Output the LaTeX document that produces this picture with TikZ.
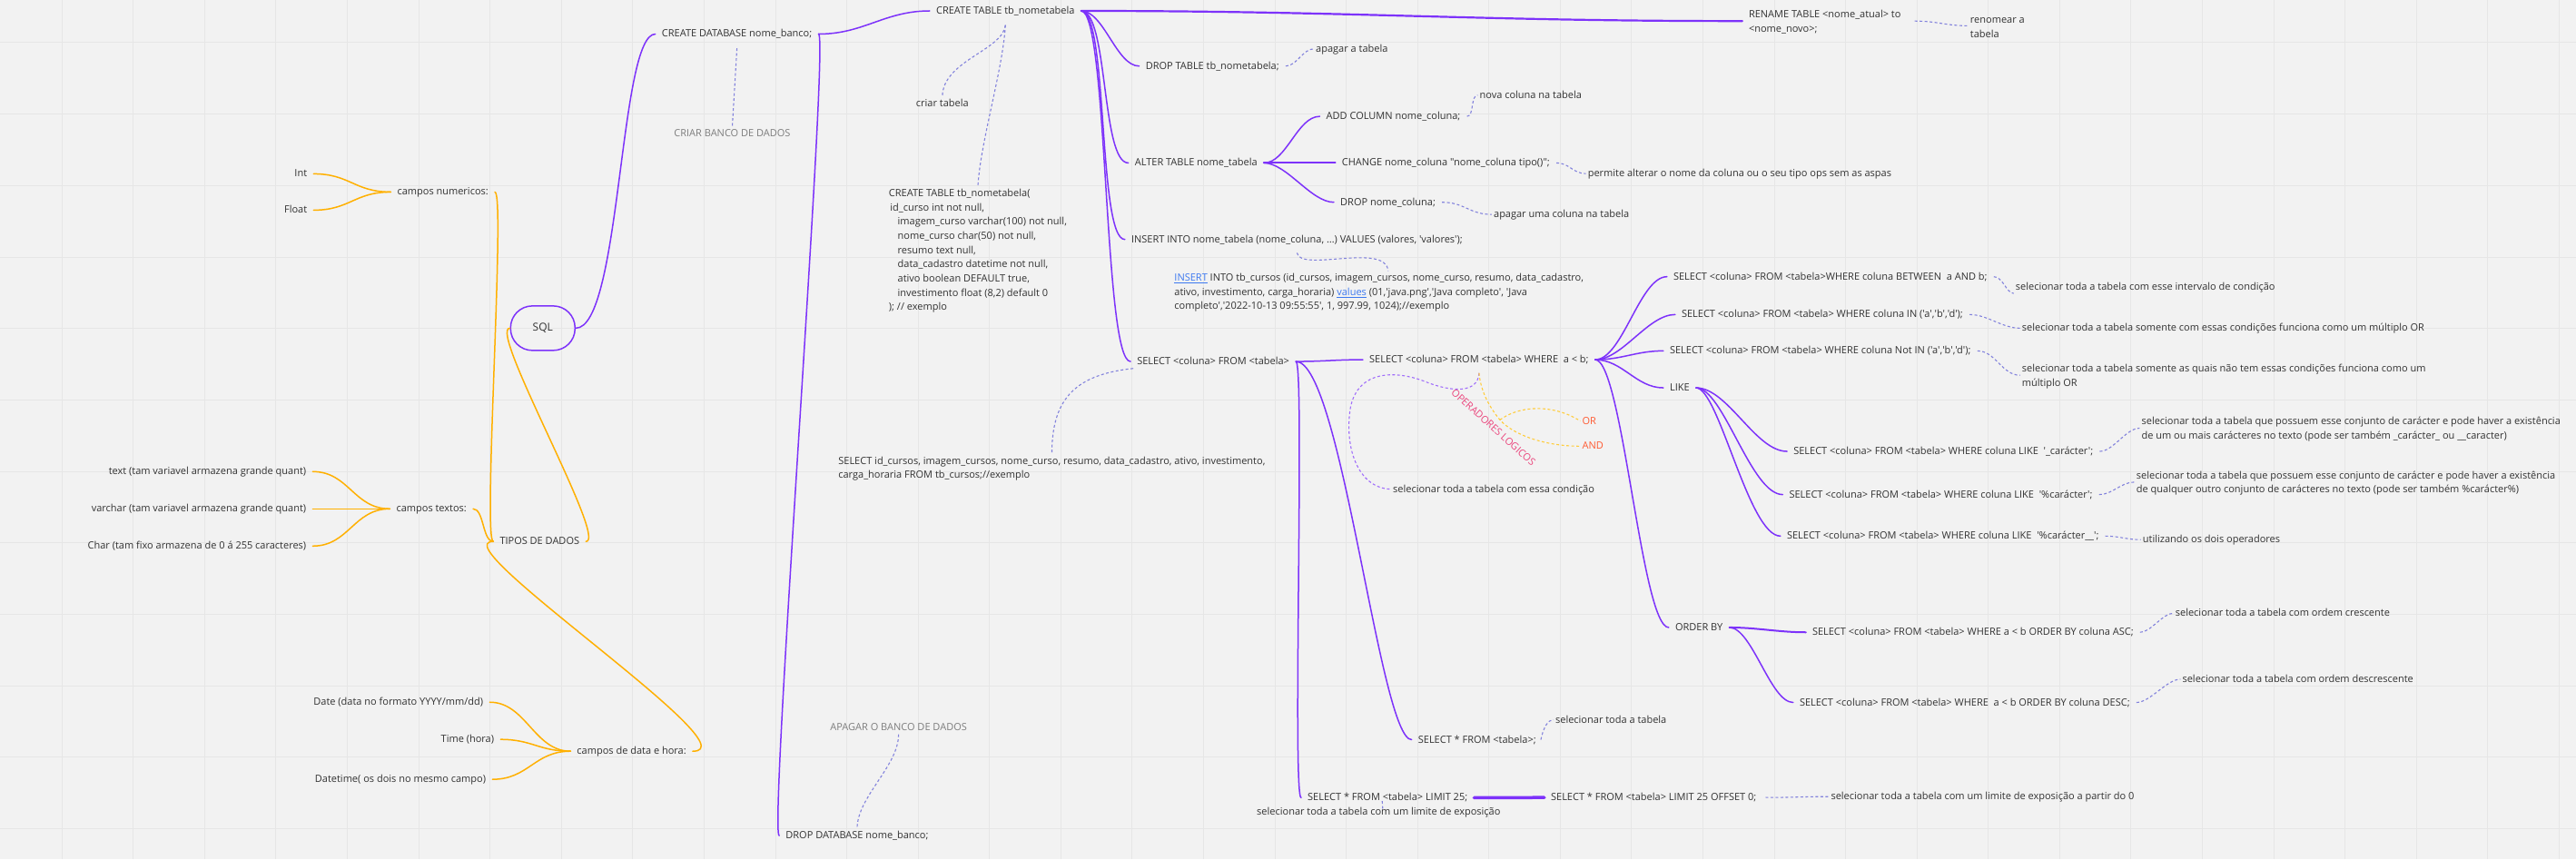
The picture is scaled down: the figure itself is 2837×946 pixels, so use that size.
\documentclass[tikz,border=0pt]{standalone}
\usepackage{fontspec}
\setmainfont{Open Sans}[Ligatures=TeXOff]
\usetikzlibrary{calc}
\definecolor{mapbg}{RGB}{242,242,242}
\definecolor{mapgrid}{RGB}{230,230,230}
\definecolor{mappurple}{RGB}{125,50,250}
\definecolor{maporange}{RGB}{255,176,0}
\definecolor{mapdash}{RGB}{130,130,220}
\definecolor{mapviolet}{RGB}{160,110,250}
\definecolor{mapyellow}{RGB}{255,205,60}
\definecolor{maptext}{RGB}{50,50,50}
\definecolor{mapgray}{RGB}{125,125,125}
\definecolor{mappink}{RGB}{235,70,125}
\definecolor{mapred}{RGB}{255,90,50}
\definecolor{maplink}{RGB}{60,120,240}
\newcommand{\weblink}[1]{\textcolor{maplink}{\underline{#1}}}

\begin{document}
\begin{tikzpicture}[x=1pt, y=-1pt, >=latex]
    \tikzstyle{item} = [anchor=west, inner xsep=7pt, inner ysep=2pt, text height=9pt, text depth=2pt, font=\fontsize{11}{15.7}\selectfont, text=maptext]
    \tikzstyle{itemleft} = [item, anchor=east]
    \tikzstyle{note} = [item, inner xsep=2pt]
    \tikzstyle{textblock} = [anchor=north west, inner sep=0pt, align=left, font=\fontsize{11}{15.7}\selectfont, text=maptext]
    \tikzstyle{hub} = [draw=mappurple, line width=1.5pt, rounded corners=24pt, minimum width=71pt, minimum height=49pt, inner sep=0pt, font=\fontsize{12}{14}\selectfont, text=maptext]
    \tikzstyle{branch} = [draw, mappurple, line width=1.5pt, line cap=round]
    \tikzstyle{limb} = [draw, maporange, line width=1.5pt, line cap=round]
    \tikzstyle{annot} = [draw, mapdash, line width=1.1pt, dash pattern=on 3pt off 2.5pt]
    \tikzstyle{loopdash} = [annot, mapviolet]
    \tikzstyle{opdash} = [annot, mapyellow]

    % fundo com grade
    \fill [mapbg] (0,0) rectangle (2837,946);
    \foreach \gx in {0,...,35}
        \draw [mapgrid, line width=1pt] ({67.8+78.6*\gx},0) -- ({67.8+78.6*\gx},946);
    \foreach \gy in {0,...,11}
        \draw [mapgrid, line width=1pt] (0,{46.5+78.7*\gy}) -- (2837,{46.5+78.7*\gy});
    \useasboundingbox (0,0) rectangle (2837,946);

    % centro
    \node [hub] (sql) at (597.5,361) {SQL};

    % tipos de dados
    \node [item] (tipos) at (543,596) {TIPOS DE DADOS};
    \node [item] (cnum) at (430,211) {campos numericos:};
    \node [itemleft] (cint) at (345,191) {Int};
    \node [itemleft] (cfloat) at (345,231) {Float};
    \node [item] (ctxt) at (429,560) {campos textos:};
    \node [itemleft] (ctext) at (344,519) {text (tam variavel armazena grande quant)};
    \node [itemleft] (cvarchar) at (344,560) {varchar (tam variavel armazena grande quant)};
    \node [itemleft] (cchar) at (344,601) {Char (tam fixo armazena de 0 á 255 caracteres)};
    \node [item] (cdata) at (628,827) {campos de data e hora:};
    \node [itemleft] (cdate) at (539,773) {Date (data no formato YYYY/mm/dd)};
    \node [itemleft] (ctime) at (551,814) {Time (hora)};
    \node [itemleft] (cdatetime) at (542,858) {Datetime( os dois no mesmo campo)};

    \path [limb] (sql.west) .. controls +(-25,0) and +(25,0) .. (tipos.east);
    \path [limb] (tipos.west) .. controls +(-12,0) and +(12,0) .. (cnum.east);
    \path [limb] (tipos.west) .. controls +(-12,0) and +(12,0) .. (ctxt.east);
    \path [limb] (tipos.west) .. controls +(-60,0) and +(70,0) .. (cdata.east);
    \path [limb] (cnum.west) .. controls +(-40,0) and +(40,0) .. (cint.east);
    \path [limb] (cnum.west) .. controls +(-40,0) and +(40,0) .. (cfloat.east);
    \path [limb] (ctxt.west) .. controls +(-40,0) and +(40,0) .. (ctext.east);
    \path [limb] (ctxt.west) -- (cvarchar.east);
    \path [limb] (ctxt.west) .. controls +(-40,0) and +(40,0) .. (cchar.east);
    \path [limb] (cdata.west) .. controls +(-40,0) and +(40,0) .. (cdate.east);
    \path [limb] (cdata.west) .. controls +(-35,0) and +(35,0) .. (ctime.east);
    \path [limb] (cdata.west) .. controls +(-40,0) and +(40,0) .. (cdatetime.east);

    % banco de dados
    \node [item] (cdb) at (721.5,37) {CREATE DATABASE nome\_banco;};
    \node [item, text=mapgray] (lcdb) at (735,147) {CRIAR BANCO DE DADOS};
    \node [item] (ddb) at (858,920) {DROP DATABASE nome\_banco;};
    \node [item, text=mapgray] (lddb) at (907,800.7) {APAGAR O BANCO DE DADOS};
    \node [item] (ctb) at (1023.8,11.5) {CREATE TABLE tb\_nometabela};
    \node [item] (lctb) at (1001.6,114) {criar tabela};
    \node [textblock] (ctblock) at (978.6,204.7) {\strut CREATE TABLE tb\_nometabela(\\
        \hspace*{1.4pt}id\_curso int not null,\\
        \hspace*{9.7pt}imagem\_curso varchar(100) not null,\\
        \hspace*{9.7pt}nome\_curso char(50) not null,\\
        \hspace*{9.7pt}resumo text null,\\
        \hspace*{9.7pt}data\_cadastro datetime not null,\\
        \hspace*{9.7pt}ativo boolean DEFAULT true,\\
        \hspace*{9.7pt}investimento float (8,2) default 0\\
        ); // exemplo};

    \path [branch] (sql.east) .. controls +(50,0) and +(-40,0) .. (cdb.west);
    \path [branch] (cdb.east) .. controls +(50,0) and +(-50,0) .. (ctb.west);
    \path [branch] (cdb.east) .. controls +(12,0) and +(-12,0) .. (ddb.west);
    \path [annot] ([yshift=-8pt]cdb.south) -- (lcdb.north);
    \path [annot] (lddb.south) .. controls +(0,35) and +(0,-35) .. (ddb.north);
    \path [annot] ([yshift=-8pt]ctb.south) .. controls +(-3,28) and +(0,-40) .. (lctb.north);
    \path [annot] ([yshift=-8pt]ctb.south) .. controls +(-3,50) and +(3,-50) .. (ctblock.north);

    % tabelas
    \node [textblock, inner xsep=7pt] (ren) at (1919,8.3) {\strut RENAME TABLE <nome\_atual> to\\<nome\_novo>;};
    \node [textblock, inner xsep=2pt] (rennote) at (2168,14.3) {\strut renomear a\\tabela};
    \node [item] (dtb) at (1254.5,72.3) {DROP TABLE tb\_nometabela;};
    \node [note] (dtbnote) at (1447,53.3) {apagar a tabela};
    \node [item] (atb) at (1242.6,179) {ALTER TABLE nome\_tabela};
    \node [item] (addc) at (1453.5,127.7) {ADD COLUMN nome\_coluna;};
    \node [note] (addnote) at (1627.5,104.3) {nova coluna na tabela};
    \node [item] (chgc) at (1470.7,179) {CHANGE nome\_coluna "nome\_coluna tipo()";};
    \node [note] (chgnote) at (1746.7,190.7) {permite alterar o nome da coluna ou o seu tipo ops sem as aspas};
    \node [item] (dropc) at (1469,222.3) {DROP nome\_coluna;};
    \node [note] (dropnote) at (1643,235.7) {apagar uma coluna na tabela};
    \node [item] (ins) at (1238.8,263.3) {INSERT INTO nome\_tabela (nome\_coluna, …) VALUES (valores, 'valores');};
    \node [textblock] (insex) at (1293.2,298) {\strut\weblink{INSERT} INTO tb\_cursos (id\_cursos, imagem\_cursos, nome\_curso, resumo, data\_cadastro,\\
        ativo, investimento, carga\_horaria) \weblink{values} (01,'java.png','Java completo', 'Java\\
        completo','2022-10-13 09:55:55', 1, 997.99, 1024);//exemplo};

    \path [branch, line width=2.2pt] (ctb.east) .. controls +(300,0) and +(-300,0) .. (ren.west);
    \path [branch] (ctb.east) .. controls +(25,0) and +(-25,0) .. (dtb.west);
    \path [branch] (ctb.east) .. controls +(30,0) and +(-30,0) .. (atb.west);
    \path [branch] (ctb.east) .. controls +(30,0) and +(-30,0) .. (ins.west);
    \path [branch] (atb.east) .. controls +(25,0) and +(-25,0) .. (addc.west);
    \path [branch, line width=2pt] (atb.east) -- (chgc.west);
    \path [branch] (atb.east) .. controls +(25,0) and +(-25,0) .. (dropc.west);
    \path [annot] ([xshift=8pt]ren.east) .. controls +(25,0) and +(-25,0) .. (rennote.west);
    \path [annot] (dtb.east) .. controls +(12,0) and +(-12,0) .. (dtbnote.west);
    \path [annot] (addc.east) .. controls +(8,0) and +(-8,0) .. (addnote.west);
    \path [annot] (chgc.east) .. controls +(15,0) and +(-15,0) .. (chgnote.west);
    \path [annot] (dropc.east) .. controls +(25,0) and +(-25,0) .. (dropnote.west);
    \path [annot] ([yshift=-7pt]ins.south) .. controls +(3,22) and +(-2,-32) .. ([xshift=10pt]insex.north);

    % consultas
    \node [item] (sel) at (1245,397.7) {SELECT <coluna> FROM <tabela>};
    \node [textblock] (selex) at (923,499.7) {\strut SELECT id\_cursos, imagem\_cursos, nome\_curso, resumo, data\_cadastro, ativo, investimento,\\
        carga\_horaria FROM tb\_cursos;//exemplo};
    \node [item] (wh) at (1501,395.7) {SELECT <coluna> FROM <tabela> WHERE \ a < b;};
    \node [item] (selall) at (1554.7,814.3) {SELECT * FROM <tabela>;};
    \node [note] (selallnote) at (1711,792.3) {selecionar toda a tabela};
    \node [item] (lim) at (1433,878.3) {SELECT * FROM <tabela> LIMIT 25;};
    \node [note] (limnote) at (1382,894) {selecionar toda a tabela com um limite de exposição};
    \node [item] (limoff) at (1701,878) {SELECT * FROM <tabela> LIMIT 25 OFFSET 0;};
    \node [note] (limoffnote) at (2014.5,877) {selecionar toda a tabela com um limite de exposição a partir do 0};

    \path [branch] (ctb.east) .. controls +(30,0) and +(-30,0) .. (sel.west);
    \path [branch] (sel.east) .. controls +(30,0) and +(-30,0) .. (wh.west);
    \path [branch] (sel.east) .. controls +(50,0) and +(-35,0) .. (selall.west);
    \path [branch] (sel.east) .. controls +(10,0) and +(-10,0) .. (lim.west);
    \path [branch, line width=3.5pt] (lim.east) -- (limoff.west);
    \path [annot] ([xshift=3pt]sel.south west) .. controls +(-68,7) and +(0,-57) .. (selex.north);
    \path [annot] ([xshift=-2pt]selall.east) .. controls +(3,-14) and +(-6,0) .. (selallnote.west);
    \path [annot] ([xshift=-6pt,yshift=4pt]lim.south) -- ([xshift=4.5pt,yshift=-4pt]limnote.north);
    \path [annot] ([xshift=3pt]limoff.east) .. controls +(30,0) and +(-30,0) .. (limoffnote.west);

    % filtros
    \node [item] (btw) at (1836,304.3) {SELECT <coluna> FROM <tabela>WHERE coluna BETWEEN \ a AND b;};
    \node [note] (btwnote) at (2218,315.7) {selecionar toda a tabela com esse intervalo de condição};
    \node [item] (inop) at (1845,346) {SELECT <coluna> FROM <tabela> WHERE coluna IN ('a','b','d');};
    \node [note] (innote) at (2225,361) {selecionar toda a tabela somente com essas condições funciona como um múltiplo OR};
    \node [item] (notin) at (1832,386) {SELECT <coluna> FROM <tabela> WHERE coluna Not IN ('a','b','d');};
    \node [textblock, inner xsep=2pt] (notinnote) at (2225,398) {\strut selecionar toda a tabela somente as quais não tem essas condições funciona como um\\múltiplo OR};
    \node [item] (like) at (1832,426.7) {LIKE};
    \node [item] (like1) at (1968.3,496.7) {SELECT <coluna> FROM <tabela> WHERE coluna LIKE \ '\_carácter';};
    \node [textblock, inner xsep=2pt] (likenote1) at (2356.7,456.3) {\strut selecionar toda a tabela que possuem esse conjunto de carácter e pode haver a existência\\de um ou mais carácteres no texto (pode ser também \_carácter\_ ou \_\_caracter)};
    \node [item] (like2) at (1963.5,544.3) {SELECT <coluna> FROM <tabela> WHERE coluna LIKE \ '\%carácter';};
    \node [textblock, inner xsep=2pt] (likenote2) at (2351,515.7) {\strut selecionar toda a tabela que possuem esse conjunto de carácter e pode haver a existência\\de qualquer outro conjunto de carácteres no texto (pode ser também \%carácter\%)};
    \node [item] (like3) at (1961,590) {SELECT <coluna> FROM <tabela> WHERE coluna LIKE \ '\%carácter\_\_';};
    \node [note] (likenote3) at (2358,594) {utilizando os dois operadores};
    \node [item] (ordby) at (1838,690.7) {ORDER BY};
    \node [item] (asc) at (1989,696) {SELECT <coluna> FROM <tabela> WHERE a < b ORDER BY coluna ASC;};
    \node [note] (ascnote) at (2394,675) {selecionar toda a tabela com ordem crescente};
    \node [item] (desc) at (1975,773.3) {SELECT <coluna> FROM <tabela> WHERE \ a < b ORDER BY coluna DESC;};
    \node [note] (descnote) at (2401.7,747.7) {selecionar toda a tabela com ordem descrescente};
    \node [note] (whnote) at (1532,538.3) {selecionar toda a tabela com essa condição};
    \node [note, text=mappink, rotate=-42, anchor=center] (oplog) at (1644.6,470.5) {OPERADORES LOGICOS};
    \node [note, text=mapred] (opor) at (1740.5,463.3) {OR};
    \node [note, text=mapred] (opand) at (1740.5,491) {AND};
    \coordinate (whbend) at (1570,420);
    \coordinate (whloop) at (1487,450);
    \coordinate (opjoin) at (1652,462);

    \path [branch] (wh.east) .. controls +(30,0) and +(-30,0) .. (btw.west);
    \path [branch] (wh.east) .. controls +(30,0) and +(-30,0) .. (inop.west);
    \path [branch] (wh.east) .. controls +(30,0) and +(-30,0) .. (notin.west);
    \path [branch] (wh.east) .. controls +(30,0) and +(-30,0) .. (like.west);
    \path [branch] (wh.east) .. controls +(30,0) and +(-30,0) .. (ordby.west);
    \path [branch] (like.east) .. controls +(35,0) and +(-35,0) .. (like1.west);
    \path [branch] (like.east) .. controls +(30,0) and +(-35,0) .. (like2.west);
    \path [branch] (like.east) .. controls +(25,0) and +(-35,0) .. (like3.west);
    \path [branch, line width=2pt] (ordby.east) .. controls +(30,0) and +(-30,0) .. (asc.west);
    \path [branch] (ordby.east) .. controls +(25,0) and +(-25,0) .. (desc.west);
    \path [annot] (btw.east) .. controls +(10,0) and +(-8,0) .. ([yshift=-7pt]btwnote.west);
    \path [annot] (inop.east) .. controls +(20,0) and +(-20,0) .. (innote.west);
    \path [annot] (notin.east) .. controls +(20,0) and +(-20,0) .. (notinnote.west);
    \path [annot] (like1.east) .. controls +(15,0) and +(-15,0) .. (likenote1.west);
    \path [annot] (like2.east) .. controls +(15,0) and +(-15,0) .. (likenote2.west);
    \path [annot] (like3.east) .. controls +(15,0) and +(-15,0) .. (likenote3.west);
    \path [annot] (asc.east) .. controls +(12,0) and +(-12,0) .. (ascnote.west);
    \path [annot] (desc.east) .. controls +(15,0) and +(-15,0) .. (descnote.west);
    \path [loopdash] ([yshift=-7pt]wh.south) .. controls +(-1,22) and +(30,12) .. (whbend)
        .. controls +(-30,-12) and +(8,-45) .. (whloop)
        .. controls +(-7,50) and +(-32,0) .. (whnote.west);
    \path [opdash] ([yshift=-7pt]wh.south) .. controls +(2,22) and +(-10,-12) .. (opjoin)
        .. controls +(14,16) and +(-40,0) .. (opand.west);
    \path [opdash] (opjoin) .. controls +(23,-17) and +(-28,-18) .. (opor.west);
\end{tikzpicture}
\end{document}
